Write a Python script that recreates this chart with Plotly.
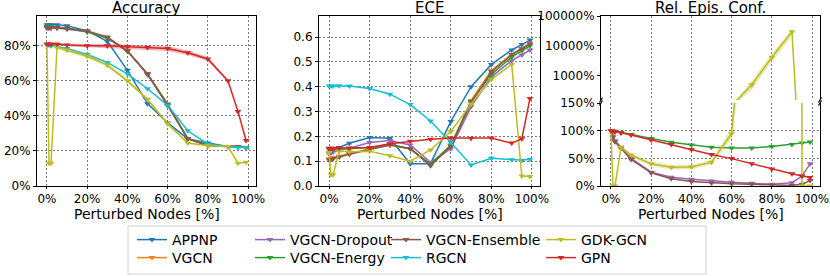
import math
import plotly.graph_objects as go

# ---------------- data ----------------
perturbed = [0, 1, 2, 5, 10, 20, 30, 40, 50, 60, 70, 80, 90, 95, 99]

models = ["APPNP", "VGCN", "VGCN-Dropout", "VGCN-Energy",
          "VGCN-Ensemble", "RGCN", "GDK-GCN", "GPN"]
colors = ["#1f77b4", "#ff7f0e", "#9467bd", "#2ca02c",
          "#8c564b", "#17becf", "#bcbd22", "#d62728"]

# Accuracy [%]
acc_appnp = [92, 92, 92, 92, 91.5, 88.5, 82.5, 66, 47, 36, 27, 24.5, 22.5, 22.5, 22]
acc_vgcn = [91, 91, 91, 90.5, 90, 88, 84.5, 77, 64, 47, 27, 23.5, 22.5, 22.5, 22]
acc_dropout = [90, 90, 90, 90, 89.5, 88, 84.5, 77, 63.5, 46, 27, 23, 22.5, 22.5, 22]
acc_energy = [91, 91, 91, 90.5, 90, 88, 84.5, 77, 64, 46.5, 27, 23.5, 22.5, 22.5, 22]
acc_ensemble = [90.5, 90.5, 90.5, 90.5, 90, 88.5, 85, 77, 64, 46, 27, 23, 22.5, 22.5, 22]
acc_rgcn = [80.5, 80.5, 80, 79.5, 78.5, 75, 70.5, 64, 55.5, 46, 31.5, 24, 22.5, 22, 22]
acc_gdk = [80.5, 13, 13, 79, 77.5, 74, 69, 60, 49.5, 35.5, 24.5, 23, 22.5, 13, 13.5]
acc_gpn = [81, 81, 81, 81, 80.5, 80, 80, 79.5, 79, 78.5, 76, 72.5, 60, 42.5, 26]
acc_gdk_std = [0.5, 0.3, 0.3, 0.8, 1.0, 1.0, 1.0, 1.0, 1.0, 0.8, 0.6, 0.4, 0.3, 0.3, 0.3]
acc_gpn_std = [0.6, 0.6, 0.6, 0.6, 0.8, 1.0, 1.2, 1.3, 1.4, 1.4, 1.3, 1.2, 0.8, 0.6, 0.6]

# ECE
ece_appnp = [0.148, 0.145, 0.145, 0.155, 0.172, 0.195, 0.192, 0.09, 0.09, 0.26, 0.40, 0.49, 0.548, 0.57, 0.588]
ece_vgcn = [0.11, 0.11, 0.115, 0.12, 0.13, 0.15, 0.165, 0.15, 0.085, 0.16, 0.345, 0.465, 0.53, 0.555, 0.575]
ece_dropout = [0.13, 0.133, 0.137, 0.145, 0.152, 0.175, 0.183, 0.165, 0.095, 0.15, 0.32, 0.44, 0.505, 0.528, 0.548]
ece_energy = [0.15, 0.148, 0.148, 0.15, 0.15, 0.155, 0.168, 0.15, 0.088, 0.165, 0.34, 0.45, 0.52, 0.545, 0.565]
ece_ensemble = [0.105, 0.107, 0.11, 0.117, 0.128, 0.148, 0.165, 0.15, 0.082, 0.16, 0.335, 0.46, 0.53, 0.553, 0.572]
ece_rgcn = [0.403, 0.403, 0.403, 0.404, 0.403, 0.393, 0.37, 0.328, 0.262, 0.175, 0.085, 0.112, 0.106, 0.104, 0.108]
ece_gdk = [0.135, 0.045, 0.045, 0.14, 0.138, 0.14, 0.122, 0.10, 0.145, 0.22, 0.33, 0.43, 0.49, 0.04, 0.038]
ece_gpn = [0.152, 0.152, 0.152, 0.153, 0.153, 0.155, 0.17, 0.18, 0.188, 0.193, 0.192, 0.193, 0.173, 0.19, 0.353]

# Relative epistemic confidence [%]
rel_dropout = [100, 90, 82, 70, 50, 25, 16, 12, 9, 7, 5, 3, 6, 18, 40]
rel_energy = [100, 99, 99, 97, 93, 86, 79, 74, 70, 68.5, 68.5, 71.5, 75, 77.5, 79.5]
rel_ensemble = [100, 88, 80, 68, 48, 24, 13, 8, 5.5, 4, 3, 1.5, 1, 3, 10]
rel_gdk = [100, 0.05, 0.05, 70, 56, 40, 34, 34.5, 43, 95, 490, 4100, 29500, 0.05, 0.05]
rel_gpn = [100, 99, 98, 96, 92, 83, 75, 66, 57, 49.5, 40, 30.5, 22, 18, 15.5]
rel_gdk_std = [0, 0, 0, 3, 3, 4, 4, 4, 4, 10, 150, 1200, 8000, 0, 0]

x_tick_vals = [0, 20, 40, 60, 80, 100]
acc_tick_vals = [0, 20, 40, 60, 80]
ece_tick_vals = [0, 0.1, 0.2, 0.3, 0.4, 0.5, 0.6]
rel_top_tick_vals = [1000, 10000, 100000]
rel_bot_tick_vals = [0, 50, 100, 150]

acc = {"APPNP": acc_appnp, "VGCN": acc_vgcn, "VGCN-Dropout": acc_dropout,
       "VGCN-Energy": acc_energy, "VGCN-Ensemble": acc_ensemble,
       "RGCN": acc_rgcn, "GDK-GCN": acc_gdk, "GPN": acc_gpn}
acc_std = {"GDK-GCN": acc_gdk_std, "GPN": acc_gpn_std}
ece = {"APPNP": ece_appnp, "VGCN": ece_vgcn, "VGCN-Dropout": ece_dropout,
       "VGCN-Energy": ece_energy, "VGCN-Ensemble": ece_ensemble,
       "RGCN": ece_rgcn, "GDK-GCN": ece_gdk, "GPN": ece_gpn}
rel = {"VGCN-Dropout": rel_dropout, "VGCN-Energy": rel_energy,
       "VGCN-Ensemble": rel_ensemble, "GDK-GCN": rel_gdk, "GPN": rel_gpn}
rel_std = {"GDK-GCN": rel_gdk_std}

# ---------------- layout helpers ----------------
W, H = 830, 276
FONT = "DejaVu Sans"


def px_x(p):
    return p / W


def px_y(p):
    return 1 - p / H


def hexa(c, a):
    c = c.lstrip("#")
    return "rgba(%d,%d,%d,%.2f)" % (int(c[0:2], 16), int(c[2:4], 16), int(c[4:6], 16), a)


def pct(vals):
    return ["%d%%" % v for v in vals]


fig = go.Figure()

legend_cols = {  # text start x, row center y (pixels)
    "APPNP": (172, 240), "VGCN": (172, 258),
    "VGCN-Dropout": (290, 240), "VGCN-Energy": (290, 258),
    "VGCN-Ensemble": (426, 240), "RGCN": (426, 258),
    "GDK-GCN": (581, 240), "GPN": (581, 258),
}
legend_ids = {}
for i, m in enumerate(models):
    legend_ids[m] = "legend" if i == 0 else "legend%d" % (i + 1)


def add_series(xa, ya, vals, std, color, name, show, logy=False):
    if std is not None:
        up = [v + s for v, s in zip(vals, std)]
        lo = [max(v - s, 1e-3) if logy else v - s for v, s in zip(vals, std)]
        fig.add_trace(go.Scatter(
            x=perturbed + perturbed[::-1], y=up + lo[::-1], fill="toself",
            fillcolor=hexa(color, 0.35), line=dict(width=0), mode="lines",
            hoverinfo="skip", showlegend=False, xaxis=xa, yaxis=ya))
    fig.add_trace(go.Scatter(
        x=perturbed, y=vals, mode="lines+markers", name=name,
        line=dict(color=color, width=1.5),
        marker=dict(symbol="triangle-down", size=6, color=color),
        showlegend=show, legend=legend_ids[name] if show else None,
        xaxis=xa, yaxis=ya))


for m, c in zip(models, colors):
    add_series("x", "y", acc[m], acc_std.get(m), c, m, True)
    add_series("x2", "y2", ece[m], None, c, m, False)
    if m in rel:
        add_series("x4", "y4", rel[m], rel_std.get(m), c, m, False)
        if m == "GDK-GCN":
            add_series("x3", "y3", rel[m], rel_std.get(m), c, m, False, logy=True)

grid = dict(showgrid=True, gridcolor="#777777", gridwidth=0.8, griddash="2px,2px")
tickfont = dict(family=FONT, size=12, color="black")
xr = [-4.95, 103.95]

p1 = (37, 256)
p2 = (319, 540)
p3 = (601, 820)
ytop, ybot = 16, 186
ymid_top, ymid_bot = 100, 103

common_x = dict(range=xr, showline=True, linecolor="black", linewidth=1.1,
                ticks="outside", ticklen=2, tickcolor="black", tickfont=tickfont,
                zeroline=False, automargin=False, tickvals=x_tick_vals,
                ticktext=pct(x_tick_vals), **grid)
common_y = dict(showline=True, linecolor="black", linewidth=1.1, mirror=True,
                ticks="outside", ticklen=3, tickcolor="black", tickfont=tickfont,
                zeroline=False, automargin=False)

fig.update_layout(
    template="none",
    width=W, height=H, margin=dict(l=0, r=0, t=0, b=0, autoexpand=False),
    paper_bgcolor="white", plot_bgcolor="white",
    font=dict(family=FONT, size=12, color="black"),
    xaxis=dict(domain=[px_x(p1[0]), px_x(p1[1])], anchor="y", mirror=True, **common_x),
    yaxis=dict(domain=[px_y(ybot), px_y(ytop)], anchor="x", range=[0, 97],
               tickvals=acc_tick_vals, ticktext=pct(acc_tick_vals), **grid, **common_y),
    xaxis2=dict(domain=[px_x(p2[0]), px_x(p2[1])], anchor="y2", mirror=True, **common_x),
    yaxis2=dict(domain=[px_y(ybot), px_y(ytop)], anchor="x2", range=[0, 0.685],
                tickvals=ece_tick_vals, ticktext=["%.1f" % v for v in ece_tick_vals],
                **grid, **common_y),
    xaxis3=dict(domain=[px_x(p3[0]), px_x(p3[1])], anchor="y3", side="top",
                showticklabels=False, range=xr, showline=True, linecolor="black",
                linewidth=1.1, ticks="", zeroline=False, automargin=False,
                tickvals=x_tick_vals, **grid),
    yaxis3=dict(domain=[px_y(ymid_top), px_y(ytop)], anchor="x3", type="log",
                range=[math.log10(150), 5], tickvals=rel_top_tick_vals,
                ticktext=pct(rel_top_tick_vals), showgrid=False, **common_y),
    xaxis4=dict(domain=[px_x(p3[0]), px_x(p3[1])], anchor="y4", **common_x),
    yaxis4=dict(domain=[px_y(ybot), px_y(ymid_bot)], anchor="x4", range=[0, 150],
                tickvals=rel_bot_tick_vals, ticktext=pct(rel_bot_tick_vals),
                **grid, **common_y),
)

# legends (one per entry, placed in a 4x2 grid)
for m in models:
    tx, ty = legend_cols[m]
    fig.update_layout({legend_ids[m]: dict(
        x=px_x(tx - 40), y=px_y(ty - 16), xanchor="left", yanchor="top",
        bgcolor="rgba(0,0,0,0)", borderwidth=0,
        font=dict(family=FONT, size=14, color="black"))})

shapes = [dict(type="rect", xref="paper", yref="paper",
               x0=px_x(128), x1=px_x(706), y0=px_y(274), y1=px_y(226),
               line=dict(color="#d0d0d0", width=1), fillcolor="rgba(0,0,0,0)", layer="below")]
for xp in (p3[0], p3[1]):
    for yp in (ymid_top, ymid_bot):
        shapes.append(dict(type="line", xref="paper", yref="paper",
                           x0=px_x(xp - 1.5), x1=px_x(xp + 1.5),
                           y0=px_y(yp + 2.5), y1=px_y(yp - 2.5),
                           line=dict(color="black", width=1.2)))
fig.update_layout(shapes=shapes)

ann = []
for (a, b), t in zip((p1, p2, p3), ("Accuracy", "ECE", "Rel. Epis. Conf.")):
    ann.append(dict(text=t, x=px_x((a + b) / 2), y=px_y(8), xref="paper", yref="paper",
                    showarrow=False, xanchor="center", yanchor="middle",
                    font=dict(family=FONT, size=15, color="black")))
    ann.append(dict(text="Perturbed Nodes [%]", x=px_x((a + b) / 2), y=px_y(214),
                    xref="paper", yref="paper", showarrow=False,
                    xanchor="center", yanchor="middle",
                    font=dict(family=FONT, size=14, color="black")))
fig.update_layout(annotations=ann)

fig.write_html("out.html",
               config={"displayModeBar": False},
               post_script="document.body.style.margin='0';document.body.style.overflow='hidden';")
